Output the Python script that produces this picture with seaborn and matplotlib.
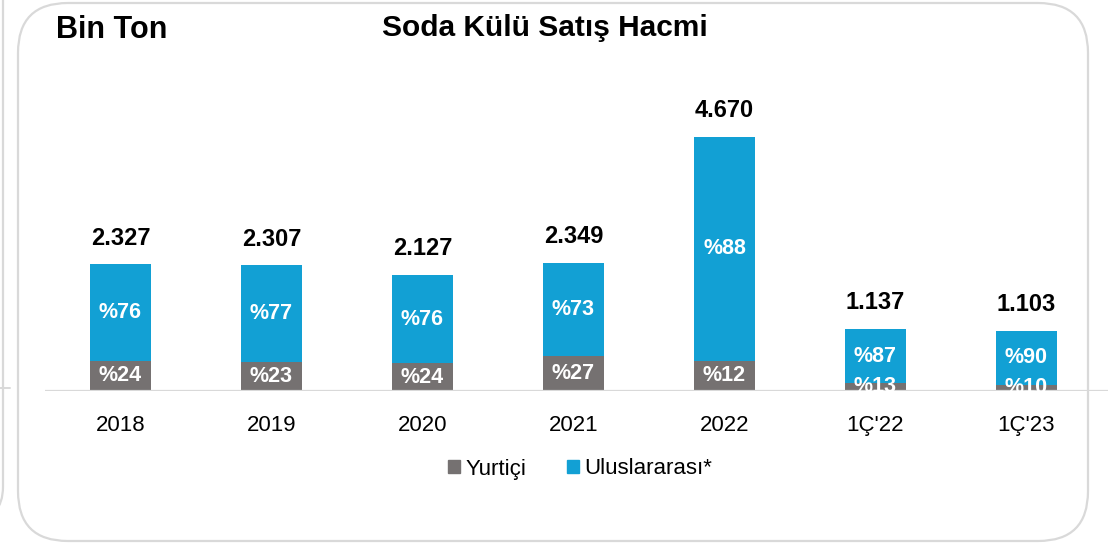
import pandas as pd
import matplotlib.pyplot as plt
import seaborn as sns
from matplotlib.patches import FancyBboxPatch, Patch

# data (bin ton, share in %)
periods = ['2018', '2019', '2020', '2021', '2022', "1Ç'22", "1Ç'23"]
totals = [2327, 2307, 2127, 2349, 4670, 1137, 1103]
domestic_pct = [24, 23, 24, 27, 12, 13, 10]
intl_pct = [76, 77, 76, 73, 88, 87, 90]

grey = '#757171'
blue = '#12A0D4'

df = pd.DataFrame({'period': periods, 'total': totals,
                   'dom_pct': domestic_pct, 'intl_pct': intl_pct})
df['domestic'] = df['total'] * df['dom_pct'] / 100

sns.set_theme(style='white')
plt.rcParams['font.family'] = ['Liberation Sans', 'DejaVu Sans']
plt.rcParams['text.color'] = 'black'

fig = plt.figure(figsize=(11.08, 5.44), dpi=100)
ax = fig.add_axes([45 / 1108, 1 - 391 / 544, (1108 - 45) / 1108, 272 / 544])

# stacked bars: full total in blue, domestic part drawn over it in grey
sns.barplot(data=df, x='period', y='total', color=blue, width=0.4,
            saturation=1, linewidth=0, ax=ax, zorder=2)
sns.barplot(data=df, x='period', y='domestic', color=grey, width=0.4,
            saturation=1, linewidth=0, ax=ax, zorder=3)

ax.set_xlim(-0.5, 6.54)
ax.set_ylim(0, 5000)
ax.axhline(0, color='#d9d9d9', lw=1.6, zorder=4)

for i, row in df.iterrows():
    ax.annotate(f"{row['total']:,}".replace(',', '.'), (i, row['total']),
                xytext=(0, 19), textcoords='offset points', ha='center',
                va='center', fontsize=17, fontweight='bold', color='black')
    ax.text(i, (row['domestic'] + row['total']) / 2, f"%{row['intl_pct']}",
            ha='center', va='center', fontsize=15.5, fontweight='bold',
            color='white', zorder=5)
    ax.text(i, row['domestic'] / 2, f"%{row['dom_pct']}", ha='center',
            va='center', fontsize=15.5, fontweight='bold', color='white',
            zorder=5)

sns.despine(ax=ax, left=True, bottom=True)
ax.set_xlabel('')
ax.set_ylabel('')
ax.set_yticks([])
ax.tick_params(axis='x', length=0, pad=17, labelsize=16, colors='black')
ax.patch.set_alpha(0)

# titles
fig.text(56 / 1108, 1 - 30 / 544, 'Bin Ton', fontsize=22, fontweight='bold',
         ha='left', va='center', color='black')
fig.text(545 / 1108, 1 - 28 / 544, 'Soda Külü Satış Hacmi', fontsize=21.5,
         fontweight='bold', ha='center', va='center', color='black')

# legend
handles = [Patch(color=grey, label='Yurtiçi'),
           Patch(color=blue, label='Uluslararası*')]
fig.legend(handles=handles, loc='center', bbox_to_anchor=(580 / 1108, 1 - 469 / 544),
           ncol=2, frameon=False, fontsize=16, handlelength=0.55,
           handleheight=0.55, handletextpad=0.25, columnspacing=1.8,
           labelcolor='black')

# rounded slide frame and neighbouring frame edge
frame = FancyBboxPatch((18 / 1108, 3 / 544), (1088 - 18) / 1108, (541 - 3) / 544,
                       boxstyle='round,pad=0,rounding_size=0.045',
                       transform=fig.transFigure, fill=False,
                       edgecolor='#d9d9d9', lw=1.6, mutation_aspect=1108 / 544)
fig.patches.append(frame)
left_frame = FancyBboxPatch((-200 / 1108, 24 / 544), 203 / 1108, 600 / 544,
                            boxstyle='round,pad=0,rounding_size=0.03',
                            transform=fig.transFigure, fill=False,
                            edgecolor='#d9d9d9', lw=1.6, mutation_aspect=1108 / 544)
fig.patches.append(left_frame)
fig.add_artist(plt.Line2D([0, 10 / 1108], [1 - 388 / 544] * 2,
                          transform=fig.transFigure, color='#d9d9d9', lw=1.4))

fig.savefig('out.png', dpi=100)
